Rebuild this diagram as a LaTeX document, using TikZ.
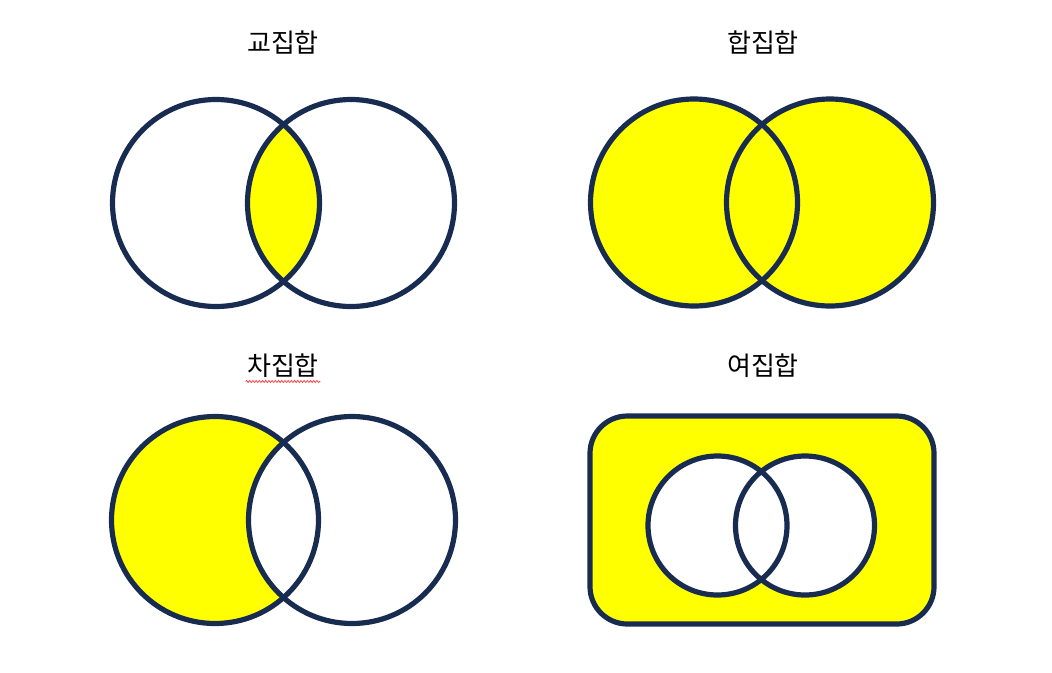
\documentclass[tikz,border=0pt]{standalone}
\usepackage{fontspec}
\newfontfamily\kr{Noto Sans CJK KR}
\usetikzlibrary{decorations.pathmorphing}
\definecolor{navy}{RGB}{24,44,82}
\definecolor{yel}{RGB}{255,255,0}
\begin{document}
\begin{tikzpicture}[x=0.75pt,y=-0.75pt,
  ring/.style={draw=navy,line width=3.9pt},
  title/.style={font=\kr\fontsize{19.5}{22}\selectfont,text=black,inner sep=0pt}]
\useasboundingbox (0,0) rectangle (1052,672);
% titles
\node[title] (t1) at (283,42) {교집합};
\node[title] (t2) at (763,42) {합집합};
\node[title] (t3) at (283,366) {차집합};
\node[title] (t4) at (763,366) {여집합};
\draw[red!80,line width=0.5pt,decorate,decoration={snake,amplitude=0.8pt,segment length=2.4pt}]
  ([xshift=-1pt,yshift=-2.5pt]t3.south west) -- ([xshift=1pt,yshift=-2.5pt]t3.south east);
% 교집합
\begin{scope}
  \clip (216,203) circle (103.5);
  \fill[yel] (351,203) circle (103.5);
\end{scope}
\draw[ring] (216,203) circle (103.5);
\draw[ring] (351,203) circle (103.5);
% 합집합
\fill[yel] (694,202.5) circle (103.5);
\fill[yel] (830,202.5) circle (103.5);
\draw[ring] (694,202.5) circle (103.5);
\draw[ring] (830,202.5) circle (103.5);
% 차집합
\fill[yel] (215,520) circle (103.5);
\fill[white] (352,520) circle (103.5);
\draw[ring] (215,520) circle (103.5);
\draw[ring] (352,520) circle (103.5);
% 여집합
\fill[yel,rounded corners=28] (590,416) rectangle (934,624);
\fill[white] (717.5,525.5) circle (69.5);
\fill[white] (805,525.5) circle (69.5);
\draw[ring,rounded corners=28] (590,416) rectangle (934,624);
\draw[ring] (717.5,525.5) circle (69.5);
\draw[ring] (805,525.5) circle (69.5);
\end{tikzpicture}
\end{document}
